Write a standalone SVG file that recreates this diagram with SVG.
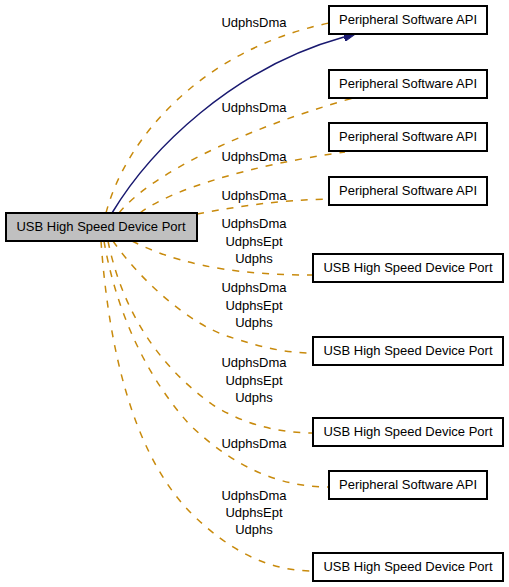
<svg xmlns="http://www.w3.org/2000/svg" width="509" height="587" viewBox="0 0 509 587">
<style>
.box{fill:#ffffff;stroke:#000000;stroke-width:2}
.main{fill:#c0c0c0;stroke:#000000;stroke-width:2}
.t{font-family:"Liberation Sans",Arial,sans-serif;font-size:13px;fill:#000000;text-anchor:middle}
.d{fill:none;stroke:#c88a0c;stroke-width:1.5;stroke-dasharray:7,8}
.s{fill:none;stroke:#191970;stroke-width:1.5}
</style>
<defs>
<marker id="ah" markerUnits="userSpaceOnUse" markerWidth="12" markerHeight="9" refX="0" refY="4.5" orient="auto">
<path d="M0,0 L12,4.5 L0,9 z" fill="#191970" stroke="#191970" stroke-width="1"/>
</marker>
</defs>
<g id="connectors">
<path class="d" d="M106,213 C125,140 200,50 329,23"/>
<path class="s" d="M112,213 C150,150 232,68 344,37" marker-end="url(#ah)"/>
<path class="d" d="M119,213 C150,175 240,130 353,98"/>
<path class="d" d="M140,213 C170,190 250,165 345,152"/>
<path class="d" d="M197,214 C240,206 280,200 329,199"/>
<path class="d" d="M132,241 C170,260 220,275 313,275"/>
<path class="d" d="M113,241 C140,280 190,325 230,337 C260,347 285,353 313,353"/>
<path class="d" d="M108,241 C120,300 150,360 213,405 C245,425 280,433 313,433"/>
<path class="d" d="M104,241 C114,300 140,370 190,425 C235,468 280,487 329,487"/>
<path class="d" d="M101,241 C108,340 130,450 190,512 C230,552 270,571 313,571"/>
<text class="t" x="254" y="27">UdphsDma</text>
<text class="t" x="254" y="112">UdphsDma</text>
<text class="t" x="254" y="161">UdphsDma</text>
<text class="t" x="254" y="200">UdphsDma</text>
<text class="t" x="254" y="228">UdphsDma</text>
<text class="t" x="254" y="246">UdphsEpt</text>
<text class="t" x="254" y="263">Udphs</text>
<text class="t" x="254" y="292">UdphsDma</text>
<text class="t" x="254" y="310">UdphsEpt</text>
<text class="t" x="254" y="327">Udphs</text>
<text class="t" x="254" y="367">UdphsDma</text>
<text class="t" x="254" y="385">UdphsEpt</text>
<text class="t" x="254" y="402">Udphs</text>
<text class="t" x="254" y="448">UdphsDma</text>
<text class="t" x="254" y="500">UdphsDma</text>
<text class="t" x="254" y="517">UdphsEpt</text>
<text class="t" x="254" y="534">Udphs</text>
</g>
<g id="main">
<rect class="main" x="6" y="213" width="191" height="28"/>
<text class="t" x="101" y="231">USB High Speed Device Port</text>
</g>
<g id="p1">
<rect class="box" x="329" y="6" width="158" height="28"/>
<text class="t" x="408" y="24">Peripheral Software API</text>
</g>
<g id="p2">
<rect class="box" x="329" y="70" width="158" height="28"/>
<text class="t" x="408" y="88">Peripheral Software API</text>
</g>
<g id="p3">
<rect class="box" x="329" y="123" width="158" height="28"/>
<text class="t" x="408" y="141">Peripheral Software API</text>
</g>
<g id="p4">
<rect class="box" x="329" y="177" width="158" height="28"/>
<text class="t" x="408" y="195">Peripheral Software API</text>
</g>
<g id="u5">
<rect class="box" x="313" y="254" width="190" height="28"/>
<text class="t" x="408" y="272">USB High Speed Device Port</text>
</g>
<g id="u6">
<rect class="box" x="313" y="337" width="190" height="28"/>
<text class="t" x="408" y="355">USB High Speed Device Port</text>
</g>
<g id="u7">
<rect class="box" x="313" y="418" width="190" height="28"/>
<text class="t" x="408" y="436">USB High Speed Device Port</text>
</g>
<g id="p8">
<rect class="box" x="329" y="471" width="158" height="28"/>
<text class="t" x="408" y="489">Peripheral Software API</text>
</g>
<g id="u9">
<rect class="box" x="313" y="553" width="190" height="28"/>
<text class="t" x="408" y="571">USB High Speed Device Port</text>
</g>
</svg>
